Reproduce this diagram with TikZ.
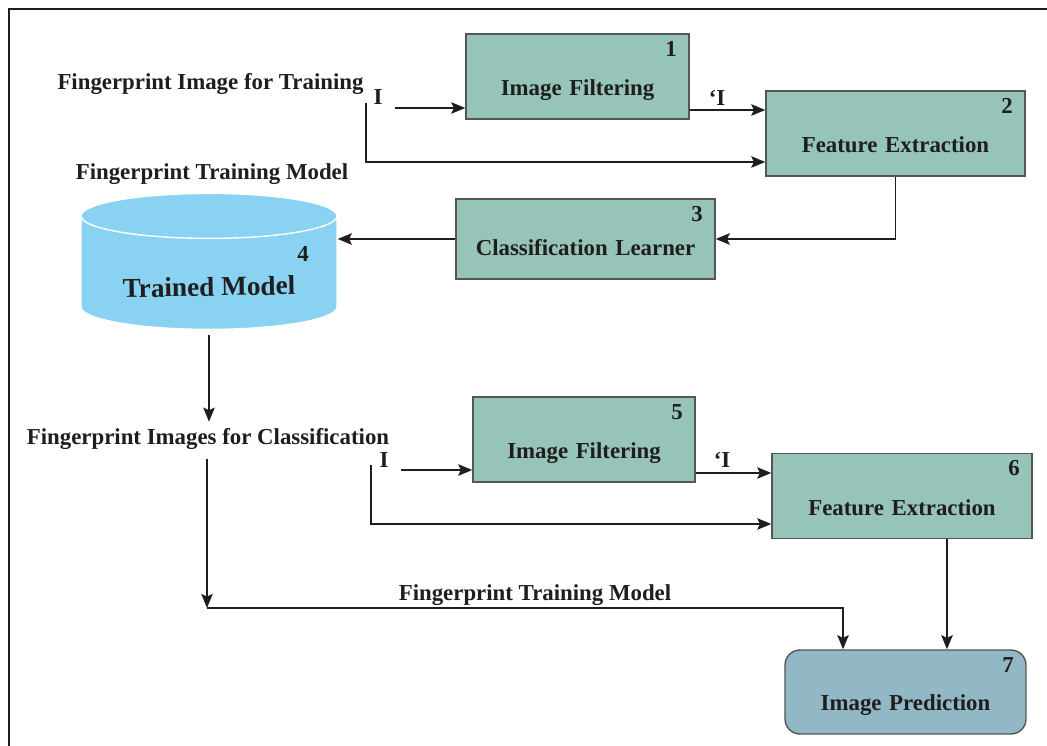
\documentclass[tikz,border=0pt]{standalone}
\usepackage{fontspec}
\setmainfont{Liberation Serif}
\usetikzlibrary{shapes.geometric,arrows.meta}
\definecolor{stagefill}{HTML}{97C4B8}
\definecolor{predfill}{HTML}{93B8C5}
\definecolor{dbfill}{HTML}{8AD2F2}
\definecolor{edge}{HTML}{555555}
\definecolor{ink}{HTML}{1E1E1E}
\begin{document}
\begin{tikzpicture}[>={Stealth[length=8pt,width=6.5pt,inset=1.5pt]}, x=0.02cm, y=-0.02cm, ink, line width=1.1pt, font=\fontsize{13}{15}\selectfont\bfseries,
	stage/.style={draw=edge, line width=0.8pt, fill=stagefill, inner sep=0pt, align=center, text height=1.24cm, text depth=0.46cm},
	db/.style={cylinder, shape border rotate=90, aspect=0.26, minimum height=2.72cm, minimum width=5.12cm, draw=white, line width=0.8pt, fill=dbfill, inner sep=0pt, text height=1.06cm, text depth=0.08cm, font=\fontsize{15.5}{18}\selectfont\bfseries},
	num/.style={anchor=north east, inner sep=0pt, xshift=-0.24cm, yshift=-0.14cm},
	lbl/.style={inner sep=0pt}]
	\useasboundingbox (0,0) rectangle (1047,746);
	\draw[line width=1.4pt] (9,746) -- (9,9) -- (1047,9);
	% training branch
	\node[stage, text width=4.46cm] (if1) at (577.5,76.5) {Image Filtering};
	\node[stage, text width=5.18cm] (fe1) at (895.5,133.5) {Feature Extraction};
	\node[stage, text width=5.18cm, text height=1.14cm] (cl) at (585.5,239) {Classification Learner};
	\node[db] (model) at (209,273) {\rotatebox{1}{Trained Model}};
	% classification branch
	\node[stage, text width=4.44cm] (if2) at (584,439.5) {Image Filtering};
	\node[stage, text width=5.2cm] (fe2) at (902,496) {Feature Extraction};
	\node[stage, fill=predfill, rounded corners=0.3cm, text width=4.82cm, text height=1.2cm, text depth=0.48cm] (pred) at (905.5,692) {Image Prediction};
	% step numbers
	\node[num] (n1) at (if1.north east) {1};
	\node[num] (n2) at (fe1.north east) {2};
	\node[num] (n3) at (cl.north east) {3};
	\node (n4) at (303,254) {4};
	\node[num] (n5) at (if2.north east) {5};
	\node[num] (n6) at (fe2.north east) {6};
	\node[num] (n7) at (pred.north east) {7};
	% texts
	\node[lbl] (train) at (210.5,84) {Fingerprint Image for Training};
	\node[lbl] (tmodel) at (212,174.5) {Fingerprint Training Model};
	\node[lbl] (in1) at (378,97) {I};
	\node[lbl] (out1) at (717,98) {`I};
	\node[lbl] (cls) at (208,438.5) {Fingerprint Images for Classification};
	\node[lbl] (in2) at (384,460) {I};
	\node[lbl] (out2) at (722,460) {`I};
	\node[lbl] (pmodel) at (535,595.5) {Fingerprint Training Model};
	\coordinate (s1) at (366,103);
	\coordinate (a1) at (395,108);
	\coordinate (s2) at (371,465);
	\coordinate (a2) at (401,470);
	\coordinate (turn) at (207,608);
	% arrows
	\draw[->] (a1) -- (a1 -| if1.west);
	\draw[->] (s1) |- ([yshift=-0.57cm]fe1.west);
	\draw[->] ([yshift=-0.67cm]if1.east) -- ([yshift=-0.67cm]if1.east -| fe1.west);
	\draw[->] (fe1.south) |- (cl.east);
	\draw[->] (cl.west) -- (cl.west -| model.east);
	\draw[->, shorten <=3pt, shorten >=3pt] (model.south) -- (model.south |- cls.north);
	\draw[->] (a2) -- (a2 -| if2.west);
	\draw[->] (s2) |- ([yshift=-0.56cm]fe2.west);
	\draw[->] ([yshift=-0.67cm]if2.east) -- ([yshift=-0.67cm]if2.east -| fe2.west);
	\draw[->, shorten <=5pt] (turn |- cls.south) -- (turn);
	\draw[->] (turn) -| ([xshift=-1.25cm]pred.north);
	\draw[->] ([xshift=0.9cm]fe2.south) -- ([xshift=0.9cm]fe2.south |- pred.north);
\end{tikzpicture}
\end{document}
